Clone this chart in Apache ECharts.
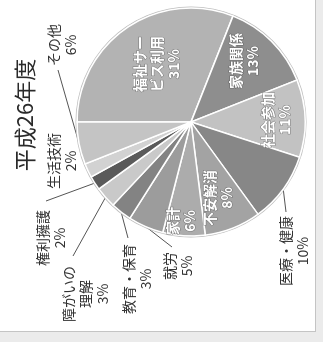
<!DOCTYPE html>
<html>
<head>
<meta charset="utf-8">
<script src="https://cdn.jsdelivr.net/npm/echarts@6/dist/echarts.min.js"></script>
<style>
  html, body { margin: 0; padding: 0; width: 323px; height: 342px; overflow: hidden; background: #ebebeb; }
  #sheet { position: absolute; left: 0; top: 0; width: 315px; height: 331px; background: #fff;
           border-right: 1px solid #c4c4c4; border-bottom: 1px solid #c4c4c4; }
  /* the page is printed sideways: the chart is laid out upright and turned a quarter left */
  #chart { position: absolute; left: 0; top: 0; width: 331px; height: 315px;
           transform-origin: 0 0; transform: translate(0, 331px) rotate(-90deg); }
</style>
</head>
<body>
<div id="sheet"><div id="chart"></div></div>
<script>
// 相談支援の内容（平成26年度）
const categories = ['福祉サービス利用', '家族関係', '社会参加', '医療・健康', '不安解消', '家計',
                    '就労', '教育・保育', '障がいの理解', '権利擁護', '生活技術', 'その他'];
const shares = [31, 13, 11, 10, 8, 6, 5, 3, 3, 2, 2, 6];
const labelNames = ['福祉サー\nビス利用', '家族関係', '社会参加', '医療・健康', '不安解消', '家計',
                    '就労', '教育・保育', '障がいの\n理解', '権利擁護', '生活技術', 'その他'];
const titleText = '平成26年度';

// slice shades
const shades = ['#b3b3b3', '#8e8e8e', '#c2c2c2', '#878787', '#a3a3a3', '#acacac',
                '#9c9c9c', '#838383', '#c9c9c9', '#5a5a5a', '#d2d2d2', '#c4c4c4'];
const insideSlices = ['福祉サービス利用', '家族関係', '社会参加', '不安解消', '家計'];

// label block centres (chart pixels) and leader-line ends
const labelSpots = {
  '福祉サービス利用': [267, 157], '家族関係': [270, 244], '社会参加': [211, 276],
  '不安解消': [133, 218], '家計': [110, 181],
  '医療・健康': [80, 294], '就労': [65, 178], '教育・保育': [52, 137],
  '障がいの理解': [37, 86], '権利擁護': [93, 51], '生活技術': [170, 62], 'その他': [286, 62]
};
const leaderEnds = {
  '医療・健康': [119, 286], '就労': [84, 172], '教育・保育': [93, 128],
  '障がいの理解': [75, 73], '権利擁護': [130, 46], 'その他': [261, 58]
};

const font = '"Noto Sans CJK JP", "Noto Sans", sans-serif';

const pieData = categories.map((name, i) => {
  const inside = insideSlices.indexOf(name) >= 0;
  return {
    name: name,
    value: shares[i],
    itemStyle: { color: shades[i] },
    label: inside
      ? { position: 'inside', color: '#fff', fontWeight: 'bold', textBorderColor: 'rgba(80,80,80,0.6)', textBorderWidth: 1 }
      : { position: 'outside', color: '#333' },
    labelLine: { show: !inside && !!leaderEnds[name] }
  };
});

const chart = echarts.init(document.getElementById('chart'));
chart.setOption({
  animation: false,
  backgroundColor: '#fff',
  title: {
    text: titleText,
    left: 211, top: 9, textAlign: 'center',
    textStyle: { fontFamily: font, fontSize: 22, fontWeight: 'normal', color: '#2a2a2a' }
  },
  series: [
    {
      type: 'pie', silent: true, center: [209, 191], radius: [114, 115.5],
      data: [{ value: 1, itemStyle: { color: '#bdbdbd' } }],
      label: { show: false }, labelLine: { show: false }
    },
    {
      type: 'pie',
      center: [209, 191],
      radius: 114,
      startAngle: 90,
      clockwise: true,
      avoidLabelOverlap: false,
      itemStyle: { borderColor: '#fff', borderWidth: 1.5 },
      label: {
        fontFamily: font, fontSize: 14, lineHeight: 17, align: 'center', overflow: 'none',
        formatter: p => labelNames[p.dataIndex] + '\n' + p.value + '%'
      },
      labelLine: { lineStyle: { color: '#555', width: 1 } },
      labelLayout: function (p) {
        const name = categories[p.dataIndex];
        const spot = labelSpots[name];
        const out = { x: spot[0], y: spot[1], align: 'center', verticalAlign: 'middle' };
        const end = leaderEnds[name];
        if (end && p.labelLinePoints) out.labelLinePoints = [p.labelLinePoints[0], end];
        return out;
      },
      data: pieData
    }
  ]
});
</script>
</body>
</html>
